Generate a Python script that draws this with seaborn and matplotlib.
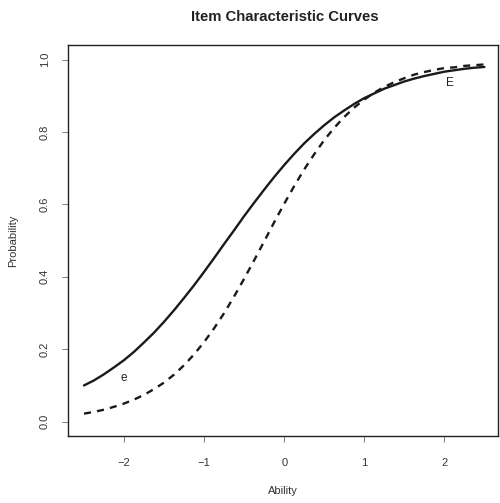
import matplotlib
matplotlib.use("Agg")
import matplotlib.pyplot as plt
import seaborn as sns
import pandas as pd

ability = [-2.5, -2.375, -2.25, -2.125, -2.0, -1.875, -1.75, -1.625, -1.5, -1.375,
           -1.25, -1.125, -1.0, -0.875, -0.75, -0.625, -0.5, -0.375, -0.25, -0.125,
           0.0, 0.125, 0.25, 0.375, 0.5, 0.625, 0.75, 0.875, 1.0, 1.125,
           1.25, 1.375, 1.5, 1.625, 1.75, 1.875, 2.0, 2.125, 2.25, 2.375, 2.5]
prob_e = [0.100, 0.114, 0.131, 0.150, 0.170, 0.193, 0.219, 0.246, 0.276, 0.308,
          0.342, 0.377, 0.414, 0.452, 0.491, 0.529, 0.568, 0.605, 0.641, 0.676,
          0.709, 0.740, 0.769, 0.795, 0.819, 0.841, 0.860, 0.878, 0.894, 0.907,
          0.920, 0.930, 0.940, 0.948, 0.955, 0.961, 0.967, 0.971, 0.975, 0.978, 0.980]
prob_E = [0.022, 0.027, 0.033, 0.041, 0.050, 0.061, 0.074, 0.090, 0.108, 0.130,
          0.156, 0.186, 0.220, 0.258, 0.300, 0.346, 0.395, 0.446, 0.498, 0.551,
          0.602, 0.651, 0.697, 0.739, 0.778, 0.812, 0.842, 0.868, 0.890, 0.909,
          0.925, 0.938, 0.949, 0.959, 0.966, 0.972, 0.977, 0.979, 0.983, 0.985, 0.987]
item_names = ["e", "E"]
label_pos = {"e": (-2.0, 0.12), "E": (2.07, 0.935)}
x_ticks = [-2, -1, 0, 1, 2]
y_ticks = [0.0, 0.2, 0.4, 0.6, 0.8, 1.0]

df = pd.DataFrame({
    "Ability": ability * 2,
    "Probability": prob_e + prob_E,
    "item": [item_names[0]] * len(ability) + [item_names[1]] * len(ability),
})

sns.set_style("ticks")
plt.rcParams["font.family"] = ["Liberation Sans", "DejaVu Sans"]

fig = plt.figure(figsize=(5.0, 5.03), dpi=100)
ax = fig.add_axes([0.136, 0.133, 0.86, 0.777])

sns.lineplot(data=df, x="Ability", y="Probability", style="item",
             dashes={"e": "", "E": (3, 2.6)}, color="#1a1a1a", linewidth=1.7,
             legend=False, ax=ax)

for name, (lx, ly) in label_pos.items():
    ax.text(lx, ly, name, fontsize=8.5, color="#222222", ha="center", va="center")

ax.set_xlim(-2.7, 2.67)
ax.set_ylim(-0.04, 1.04)
ax.set_xticks(x_ticks)
ax.set_xticklabels([str(t).replace("-", "\u2212") for t in x_ticks])
ax.set_yticks(y_ticks)
ax.set_yticklabels([f"{t:.1f}" for t in y_ticks], rotation=90, va="center")
ax.tick_params(axis="both", direction="out", length=4, width=0.6, color="#666666",
               labelsize=8, labelcolor="#333333")
ax.tick_params(axis="x", pad=12)
ax.tick_params(axis="y", pad=9)

for s in ax.spines.values():
    s.set_visible(True)
    s.set_color("#222222")
    s.set_linewidth(1.0)

ax.set_xlabel("Ability", fontsize=8, color="#333333", labelpad=13)
ax.set_ylabel("Probability", fontsize=8, color="#333333", labelpad=16)
fig.text(0.57, 0.966, "Item Characteristic Curves", fontsize=10.7, fontweight="bold",
         ha="center", va="center", color="#222222")

fig.savefig("out.png", dpi=100)
